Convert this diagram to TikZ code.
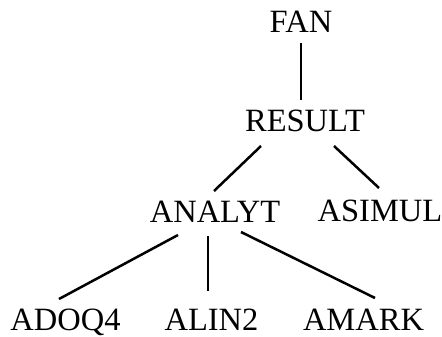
\documentclass[tikz,border=0pt]{standalone}
\usepackage{fontspec}
\setmainfont{Liberation Serif}
\usepackage{tikz}

\tikzset{
  prog/.style={anchor=base,inner sep=0pt,outer xsep=0pt,outer ysep=10pt,
    text height=21pt,text depth=0pt,font=\fontsize{32.5}{36}\selectfont},
  call/.style={line width=2.5pt}
}

\begin{document}
\begin{tikzpicture}[x=1pt,y=-1pt]
\useasboundingbox (0,0) rectangle (442,337);
\node[prog] (fan) at (301,33) {FAN};
\node[prog] (result) at (305,131) {RESULT};
\node[prog] (analyt) at (215,222) {ANALYT};
\node[prog] (asimul) at (380,221) {ASIMUL};
\node[prog] (adoq) at (65.5,330) {ADOQ4};
\node[prog] (alin) at (211.5,330) {ALIN2};
\node[prog] (amark) at (363.5,330) {AMARK};

\draw[call] (fan.south)--([xshift=-4pt]result.north);
\draw[call] ([xshift=-44pt,yshift=-5pt]result.south)--([xshift=-1pt]analyt.north);
\draw[call] ([xshift=29pt,yshift=-5pt]result.south)--([xshift=-1pt,yshift=2pt]asimul.north);

\draw[call] ([xshift=-37pt,yshift=-3pt]analyt.south)--([xshift=-6.5pt]adoq.north);
\draw[call] ([xshift=-7pt,yshift=-4pt]analyt.south)--([xshift=-3.5pt,yshift=8pt]alin.north);
\draw[call] ([xshift=26pt]analyt.south)--([xshift=11.5pt,yshift=1pt]amark.north);
\end{tikzpicture}
\end{document}
